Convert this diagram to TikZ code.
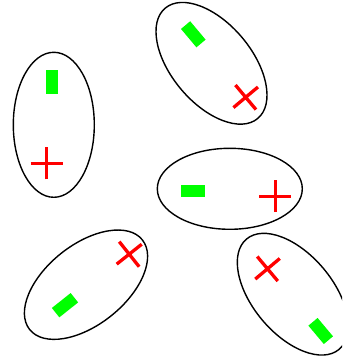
\documentclass[tikz,border=0pt]{standalone}
\usepackage{tikz}

\begin{document}
\begin{tikzpicture}[x=1pt, y=1pt,
    dipole/.style={draw=black, line width=1.4pt},
    minusbar/.style={fill={rgb,255:red,0;green,255;blue,0}, inner sep=0pt,
      minimum width=24pt, minimum height=12pt},
    plusbar/.style={draw={rgb,255:red,255;green,0;blue,0}, line width=3.3pt}]
  \clip (0,0) rectangle (342,358);

  % ellipse centres
  \coordinate (e1) at (53.8,233.2);
  \coordinate (e2) at (211.5,294.7);
  \coordinate (e3) at (229.8,169.2);
  \coordinate (e4) at (86,73.3);
  \coordinate (e5) at (292.8,63.8);

  % plus centres
  \coordinate (p1) at (46.7,194.7);
  \coordinate (p2) at (245.7,260.7);
  \coordinate (p3) at (275.3,161.8);
  \coordinate (p4) at (129.2,103.8);
  \coordinate (p5) at (267.5,89.2);

  % left, upright
  \draw[dipole] (e1) ellipse [x radius=40.5, y radius=72.5];
  \node[minusbar, rotate=90] (m1) at (52,276.2) {};
  \draw[plusbar, shift={(p1)}] (-16,0) -- (16,0) (0,-16) -- (0,16);

  % top, tilted
  \draw[dipole, rotate around={-50:(e2)}] (e2) ellipse [x radius=72, y radius=40];
  \node[minusbar, rotate=-50] (m2) at (193.3,323.7) {};
  \draw[plusbar, shift={(p2)}, rotate=-50] (-16,0) -- (16,0) (0,-16) -- (0,16);

  % middle, flat
  \draw[dipole] (e3) ellipse [x radius=72.5, y radius=40.5];
  \node[minusbar] (m3) at (193,167.2) {};
  \draw[plusbar, shift={(p3)}] (-16,0) -- (16,0) (0,-16) -- (0,16);

  % bottom left
  \draw[dipole, rotate around={38.5:(e4)}] (e4) ellipse [x radius=72, y radius=40];
  \node[minusbar, rotate=38.5] (m4) at (65,52.8) {};
  \draw[plusbar, shift={(p4)}, rotate=38.5] (-16,0) -- (16,0) (0,-16) -- (0,16);

  % bottom right
  \draw[dipole, rotate around={-50:(e5)}] (e5) ellipse [x radius=72, y radius=40];
  \node[minusbar, rotate=-50] (m5) at (320.7,27) {};
  \draw[plusbar, shift={(p5)}, rotate=-50] (-16,0) -- (16,0) (0,-16) -- (0,16);
\end{tikzpicture}
\end{document}
